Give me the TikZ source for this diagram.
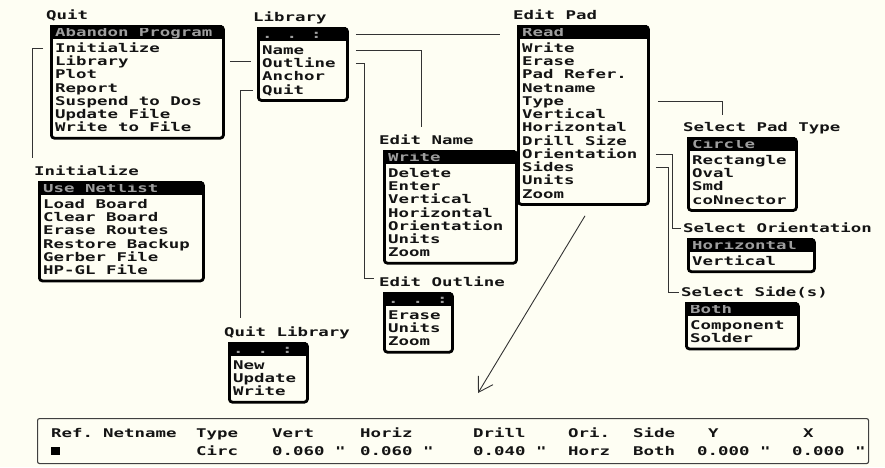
\documentclass[tikz,border=0pt]{standalone}
\usepackage{fontspec}
\usetikzlibrary{arrows.meta}
\newfontfamily\pix[FakeStretch=1.45]{DejaVu Sans Mono}
\definecolor{bgc}{RGB}{254,254,243}
\def\rowh{13.25}
\tikzset{
  item/.style={font=\pix\bfseries\fontsize{12}{13}\selectfont, text=black!92, inner sep=0pt, text height=9pt, text depth=1pt, anchor=west},
  ttl/.style={item},
  hltext/.style={item, text=black!38},
  menubox/.style={draw=black, line width=2.8pt, rounded corners=3pt, inner sep=0pt, anchor=north west},
  conn/.style={draw=black!80, line width=0.9pt},
  statusbox/.style={draw=black!75, line width=1.1pt, rounded corners=2pt, inner sep=0pt, anchor=north west}
}
% #1 name, #2 left, #3 top, #4 width, #5 title, #6 highlighted item, #7 items, #8 number of items
\newcommand\mkmenu[8]{%
  \node[ttl] (#1T) at (#2-4,#3-10) {#5};
  \fill[black] (#2,#3) rectangle (#2+#4,#3+14);
  \node[hltext] (#1-0) at (#2+5,#3+7.5) {#6};
  \foreach \t [count=\i] in {#7} {\node[item] (#1-\i) at (#2+5,#3+10+\i*\rowh) {\t};}
  \pgfmathsetmacro\boxh{19+#8*\rowh}
  \node[menubox, minimum width=#4 pt, minimum height=\boxh pt] (#1) at (#2,#3) {};
}
\begin{document}
\begin{tikzpicture}[x=1pt,y=-1pt]
\fill[bgc] (0,0) rectangle (885,467);
\useasboundingbox (0,0) rectangle (885,467);

\mkmenu{quit}{50}{25}{172}{Quit}{Abandon Program}{Initialize,Library,Plot,Report,Suspend to Dos,Update File,Write to File}{7}
\mkmenu{lib}{257}{27}{89}{Library}{. . :}{Name,Outline,Anchor,Quit}{4}
\mkmenu{pad}{517}{25}{130}{Edit Pad}{Read}{Write,Erase,Pad Refer.,Netname,Type,Vertical,Horizontal,Drill Size,Orientation,Sides,Units,Zoom}{12}
\mkmenu{ename}{383}{150}{132}{Edit Name}{Write}{Delete,Enter,Vertical,Horizontal,Orientation,Units,Zoom}{7}
\mkmenu{init}{38}{181}{164}{Initialize}{Use Netlist}{Load Board,Clear Board,Erase Routes,Restore Backup,Gerber File,HP-GL File}{6}
\mkmenu{spt}{687}{137}{108}{Select Pad Type}{Circle}{Rectangle,Oval,Smd,coNnector}{4}
\mkmenu{sor}{687}{238}{126}{Select Orientation}{Horizontal}{Vertical}{1}
\mkmenu{sside}{685}{302}{112}{Select Side(s)}{Both}{Component,Solder}{2}
\mkmenu{eout}{383}{292}{68}{Edit Outline}{. . :}{Erase,Units,Zoom}{3}
\mkmenu{qlib}{228}{342}{78}{Quit Library}{. . :}{New,Update,Write}{3}

% status bar
\node[statusbox, minimum width=831pt, minimum height=45pt] (bar) at (37,418) {};
\node[item] (h1) at (51,433) {Ref.};
\node[item] (h2) at (103,433) {Netname};
\node[item] (h3) at (196,433) {Type};
\node[item] (h4) at (272,433) {Vert};
\node[item] (h5) at (360,433) {Horiz};
\node[item] (h6) at (473,433) {Drill};
\node[item] (h7) at (568,433) {Ori.};
\node[item] (h8) at (633,433) {Side};
\node[item] (h9) at (708,433) {Y};
\node[item] (h10) at (803,433) {X};
\node[fill=black, minimum width=9pt, minimum height=8pt, inner sep=0pt, anchor=west] (v1) at (51,451) {};
\node[item] (v3) at (196,451) {Circ};
\node[item] (v4) at (272,451) {0.060 "};
\node[item] (v5) at (360,451) {0.060 "};
\node[item] (v6) at (473,451) {0.040 "};
\node[item] (v7) at (568,451) {Horz};
\node[item] (v8) at (633,451) {Both};
\node[item] (v9) at (697,451) {0.000 "};
\node[item] (v10) at (792,451) {0.000 "};

% connectors
\draw[conn] ([xshift=-7pt]quit.west |- quit-1.west) -| ([xshift=-2pt,yshift=13pt]initT.west);
\draw[conn] ([xshift=5pt]quit.east |- quit-2.west) -- ([xshift=-6pt]lib.west |- quit-2.west);
\draw[conn] ([xshift=-4pt]lib.west |- lib-4.west) -| ([xshift=16pt,yshift=14pt]qlibT.west);
\draw[conn] ([xshift=7pt]lib.east |- lib-0.west) -- ([xshift=-17pt]pad.west |- lib-0.west);
\draw[conn] ([xshift=7pt]lib.east |- lib-1.west) -| ([xshift=42pt,yshift=13pt]enameT.west);
\draw[conn] ([xshift=7pt]lib.east |- lib-2.west) -| ([xshift=-15pt,yshift=4pt]eoutT.west) -- ([xshift=-5pt,yshift=4pt]eoutT.west);
\draw[conn] ([xshift=8pt]pad.east |- pad-5.west) -| ([xshift=39pt,yshift=12pt]sptT.west);
\draw[conn] ([xshift=6pt]pad.east |- pad-9.west) -| ([xshift=-11pt]sorT.west) -- ([xshift=-2pt]sorT.west);
\draw[conn] ([xshift=6pt]pad.east |- pad-10.west) -| ([xshift=-13pt]ssideT.west) -- ([xshift=-2pt]ssideT.west);
\draw[conn, -{Straight Barb[length=14pt,width=17pt]}] ([xshift=68pt,yshift=-10pt]pad.south west) -- ([xshift=441pt,yshift=25pt]bar.north west);
\end{tikzpicture}
\end{document}
